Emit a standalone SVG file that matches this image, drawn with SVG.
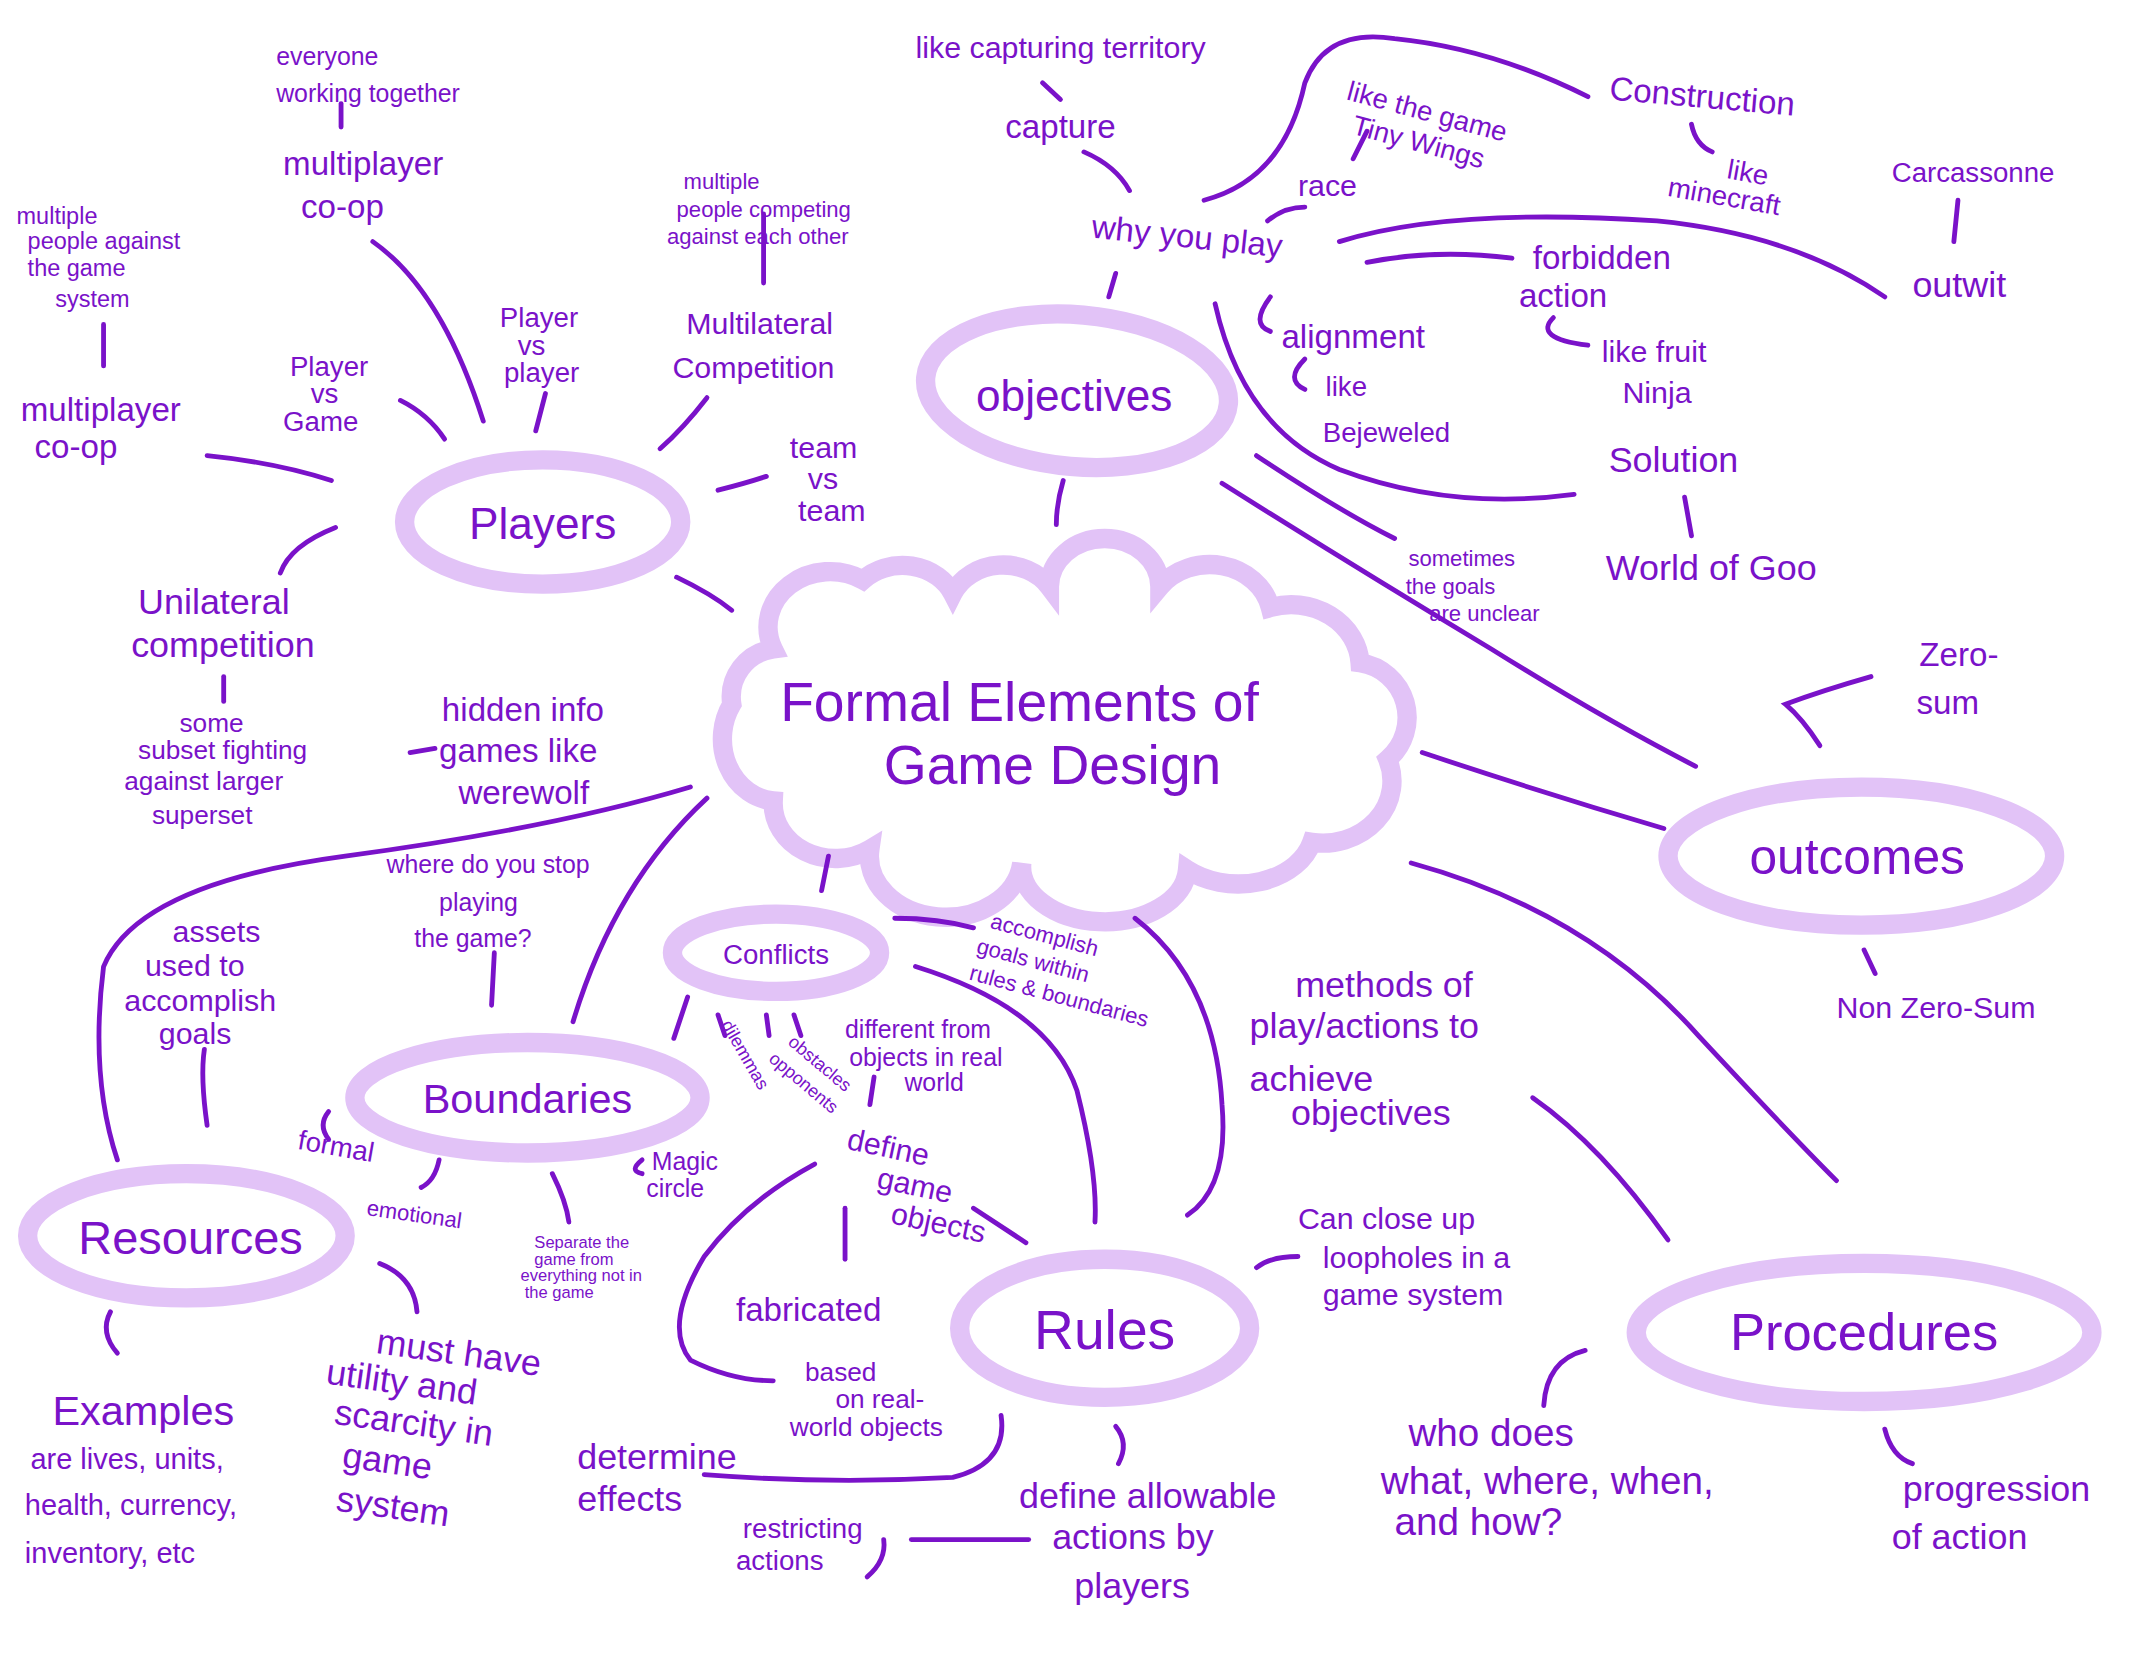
<svg xmlns="http://www.w3.org/2000/svg" width="2154" height="1668" viewBox="0 0 2154 1668">
<style>
text{font-family:"Liberation Sans","DejaVu Sans",sans-serif;fill:#7a12c9}
.e{fill:none;stroke:#e2c3f7;stroke-width:14}
.c path{fill:none;stroke:#7a12c9;stroke-width:3.5;stroke-linecap:round}
</style>
<rect width="2154" height="1668" fill="#fff"/>
<g transform="scale(1.3808)">
<g id="center"><path class="e" d="M560 470 A45 40 0 0 1 625 420 A40 35 0 0 1 690 430 A40 35 0 0 1 760 425 A40 35 0 0 1 840 425 A45 40 0 0 1 920 440 A50 45 0 0 1 985 480 A40 40 0 0 1 1005 550 A50 45 0 0 1 950 610 A55 40 0 0 1 860 630 A60 40 0 0 1 740 625 A50 40 0 0 1 630 615 A45 40 0 0 1 560 580 A40 45 0 0 1 530 510 A35 35 0 0 1 560 470 Z"/>
<text x="565" y="522" font-size="40">Formal Elements of</text><text x="640" y="568" font-size="40">Game Design</text></g>
<g id="players"><ellipse class="e" cx="393" cy="378" rx="100" ry="45"/><text x="393" y="390" font-size="32" text-anchor="middle">Players</text></g>
<g id="objectives"><ellipse class="e" cx="780" cy="283" rx="110" ry="55" transform="rotate(5 780 283)"/><text x="778" y="298" font-size="32" text-anchor="middle">objectives</text></g>
<g id="outcomes"><ellipse class="e" cx="1348" cy="620" rx="140" ry="50"/><text x="1345" y="633" font-size="36" text-anchor="middle">outcomes</text></g>
<g id="procedures"><ellipse class="e" cx="1350" cy="965" rx="165" ry="50"/><text x="1350" y="978" font-size="38" text-anchor="middle">Procedures</text></g>
<g id="rules"><ellipse class="e" cx="800" cy="962" rx="105" ry="50"/><text x="800" y="977" font-size="40" text-anchor="middle">Rules</text></g>
<g id="conflicts"><ellipse class="e" cx="562" cy="690" rx="75" ry="28"/><text x="562" y="698" font-size="20" text-anchor="middle">Conflicts</text></g>
<g id="boundaries"><ellipse class="e" cx="382" cy="795" rx="125" ry="40"/><text x="382" y="806" font-size="30" text-anchor="middle">Boundaries</text></g>
<g id="resources"><ellipse class="e" cx="135" cy="895" rx="115" ry="45"/><text x="138" y="908" font-size="34" text-anchor="middle">Resources</text></g>

<g id="labels">
<text font-size="18"><tspan x="200" y="47">everyone</tspan><tspan x="200" y="74">working together</tspan></text>
<text font-size="24"><tspan x="205" y="127">multiplayer</tspan><tspan x="218" y="158">co-op</tspan></text>
<text font-size="17"><tspan x="12" y="162">multiple</tspan><tspan x="20" y="180">people against</tspan><tspan x="20" y="200">the game</tspan><tspan x="40" y="222">system</tspan></text>
<text font-size="24"><tspan x="15" y="305">multiplayer</tspan><tspan x="25" y="332">co-op</tspan></text>
<text font-size="20"><tspan x="210" y="272">Player</tspan><tspan x="225" y="292">vs</tspan><tspan x="205" y="312">Game</tspan></text>
<text font-size="20"><tspan x="362" y="237">Player</tspan><tspan x="375" y="257">vs</tspan><tspan x="365" y="277">player</tspan></text>
<text font-size="16"><tspan x="495" y="137">multiple</tspan><tspan x="490" y="157">people competing</tspan><tspan x="483" y="177">against each other</tspan></text>
<text font-size="22"><tspan x="497" y="242">Multilateral</tspan><tspan x="487" y="274">Competition</tspan></text>
<text font-size="22"><tspan x="572" y="332">team</tspan><tspan x="585" y="354">vs</tspan><tspan x="578" y="377">team</tspan></text>
<text font-size="26"><tspan x="100" y="445">Unilateral</tspan><tspan x="95" y="476">competition</tspan></text>
<text font-size="19"><tspan x="130" y="530">some</tspan><tspan x="100" y="550">subset fighting</tspan><tspan x="90" y="572">against larger</tspan><tspan x="110" y="597">superset</tspan></text>
<text font-size="24"><tspan x="320" y="522">hidden info</tspan><tspan x="318" y="552">games like</tspan><tspan x="332" y="582">werewolf</tspan></text>
<text x="663" y="42" font-size="22">like capturing territory</text>
<text x="728" y="100" font-size="24">capture</text>
<text x="790" y="172" font-size="24" transform="rotate(6 790 172)">why you play</text>
<text font-size="20" transform="rotate(15 975 70)"><tspan x="975" y="72">like the game</tspan><tspan x="985" y="95">Tiny Wings</tspan></text>
<text x="940" y="142" font-size="22">race</text>
<text x="1165" y="72" font-size="24" transform="rotate(5 1165 72)">Construction</text>
<text font-size="20" transform="rotate(10 1210 125)"><tspan x="1250" y="122">like</tspan><tspan x="1210" y="142">minecraft</tspan></text>
<text x="1370" y="132" font-size="20">Carcassonne</text>
<text x="1385" y="215" font-size="26">outwit</text>
<text font-size="24"><tspan x="1110" y="195">forbidden</tspan><tspan x="1100" y="222">action</tspan></text>
<text font-size="22"><tspan x="1160" y="262">like fruit</tspan><tspan x="1175" y="292">Ninja</tspan></text>
<text x="928" y="252" font-size="24">alignment</text>
<text font-size="20"><tspan x="960" y="287">like</tspan><tspan x="958" y="320">Bejeweled</tspan></text>
<text x="1165" y="342" font-size="26">Solution</text>
<text x="1163" y="420" font-size="26">World of Goo</text>
<text font-size="16"><tspan x="1020" y="410">sometimes</tspan><tspan x="1018" y="430">the goals</tspan><tspan x="1035" y="450">are unclear</tspan></text>
<text font-size="24"><tspan x="1390" y="482">Zero-</tspan><tspan x="1388" y="517">sum</tspan></text>
<text x="1330" y="737" font-size="22">Non Zero-Sum</text>
<text font-size="26"><tspan x="938" y="722">methods of</tspan><tspan x="905" y="752">play/actions to</tspan><tspan x="905" y="790">achieve</tspan><tspan x="935" y="815">objectives</tspan></text>
<text font-size="22"><tspan x="940" y="890">Can close up</tspan><tspan x="958" y="918">loopholes in a</tspan><tspan x="958" y="945">game system</tspan></text>
<text font-size="28"><tspan x="1020" y="1047">who does</tspan><tspan x="1000" y="1082">what, where, when,</tspan><tspan x="1010" y="1112">and how?</tspan></text>
<text font-size="26"><tspan x="1378" y="1087">progression</tspan><tspan x="1370" y="1122">of action</tspan></text>
<text font-size="26"><tspan x="738" y="1092">define allowable</tspan><tspan x="762" y="1122">actions by</tspan><tspan x="778" y="1157">players</tspan></text>
<text font-size="20"><tspan x="538" y="1114">restricting</tspan><tspan x="533" y="1137">actions</tspan></text>
<text font-size="26"><tspan x="418" y="1064">determine</tspan><tspan x="418" y="1094">effects</tspan></text>
<text x="533" y="957" font-size="24">fabricated</text>
<text font-size="19"><tspan x="583" y="1000">based</tspan><tspan x="605" y="1020">on real-</tspan><tspan x="572" y="1040">world objects</tspan></text>
<text font-size="22" transform="rotate(12 613 830)"><tspan x="613" y="832">define</tspan><tspan x="640" y="855">game</tspan><tspan x="655" y="878">objects</tspan></text>
<text font-size="18"><tspan x="612" y="752">different from</tspan><tspan x="615" y="772">objects in real</tspan><tspan x="655" y="790">world</tspan></text>
<text font-size="16" transform="rotate(15 717 670)"><tspan x="717" y="672">accomplish</tspan><tspan x="712" y="692">goals within</tspan><tspan x="712" y="712">rules &amp; boundaries</tspan></text>
<text x="522" y="742" font-size="13" transform="rotate(60 522 742)">dilemmas</text>
<text x="570" y="756" font-size="13" transform="rotate(40 570 756)">obstacles</text>
<text x="556" y="768" font-size="13" transform="rotate(40 556 768)">opponents</text>
<text font-size="18"><tspan x="280" y="632">where do you stop</tspan><tspan x="318" y="660">playing</tspan><tspan x="300" y="686">the game?</tspan></text>
<text font-size="22"><tspan x="125" y="682">assets</tspan><tspan x="105" y="707">used to</tspan><tspan x="90" y="732">accomplish</tspan><tspan x="115" y="756">goals</tspan></text>
<text x="215" y="832" font-size="20" transform="rotate(10 215 832)">formal</text>
<text x="265" y="880" font-size="16" transform="rotate(8 265 880)">emotional</text>
<text font-size="18"><tspan x="472" y="847">Magic</tspan><tspan x="468" y="867">circle</tspan></text>
<text font-size="12"><tspan x="387" y="904">Separate the</tspan><tspan x="387" y="916">game from</tspan><tspan x="377" y="928">everything not in</tspan><tspan x="380" y="940">the game</tspan></text>
<text font-size="26" transform="rotate(8 235 1005)"><tspan x="268" y="975">must have</tspan><tspan x="235" y="1002">utility and</tspan><tspan x="245" y="1030">scarcity in</tspan><tspan x="255" y="1060">game</tspan><tspan x="255" y="1092">system</tspan></text>
<text x="38" y="1032" font-size="30">Examples</text>
<text font-size="21"><tspan x="22" y="1064">are lives, units,</tspan><tspan x="18" y="1097">health, currency,</tspan><tspan x="18" y="1132">inventory, etc</tspan></text>
</g>

<g id="connectors" class="c">
<path d="M247 75L247 92"/><path d="M270 175Q320 210 350 305"/><path d="M75 235L75 265"/><path d="M150 330Q200 335 240 348"/><path d="M290 290Q310 300 322 318"/><path d="M395 285L388 312"/><path d="M553 155L553 205"/><path d="M512 288Q495 310 478 325"/><path d="M520 355Q540 350 555 345"/><path d="M243 382Q210 395 203 415"/><path d="M490 418Q515 430 530 442"/><path d="M162 490L162 508"/><path d="M297 545L315 542"/><path d="M500 570Q400 600 250 620Q100 640 75 700Q65 780 85 840"/><path d="M512 578Q445 640 415 740"/><path d="M358 690L356 728"/><path d="M148 760Q145 780 150 815"/><path d="M600 620L595 645"/><path d="M498 722L488 752"/><path d="M520 735L525 750"/><path d="M555 735L557 750"/><path d="M575 735L580 750"/><path d="M633 780L630 800"/><path d="M648 665Q680 665 705 672"/><path d="M663 700Q760 730 780 790Q795 850 793 885"/><path d="M822 665Q880 710 885 800Q890 860 860 880"/><path d="M590 843Q540 870 510 910Q480 960 500 985Q530 1000 560 1000"/><path d="M612 875L612 912"/><path d="M705 875L743 900"/><path d="M725 1025Q730 1060 690 1070Q600 1075 510 1068"/><path d="M808 1033Q818 1045 810 1060"/><path d="M660 1115L745 1115"/><path d="M640 1115Q642 1130 628 1142"/><path d="M910 918Q920 910 940 910"/><path d="M1148 978Q1120 985 1118 1018"/><path d="M1365 1035Q1370 1055 1385 1060"/><path d="M1350 688L1358 705"/><path d="M1355 490Q1320 500 1293 510Q1305 520 1318 540"/><path d="M1030 545Q1120 575 1205 600"/><path d="M1022 625Q1150 660 1230 750Q1295 820 1330 855"/><path d="M1110 795Q1160 830 1208 898"/><path d="M885 350Q980 410 1080 470Q1160 520 1228 555"/><path d="M910 330Q970 370 1010 390"/><path d="M880 220Q900 310 970 340Q1050 370 1140 358"/><path d="M1220 360L1225 388"/><path d="M770 348Q765 365 765 380"/><path d="M808 198L803 215"/><path d="M785 110Q808 120 818 138"/><path d="M755 60L768 72"/><path d="M872 145Q930 130 945 60Q960 20 1010 28Q1080 35 1150 70"/><path d="M918 160Q930 150 945 150"/><path d="M990 95L980 115"/><path d="M1225 90Q1228 105 1240 110"/><path d="M970 175Q1050 150 1200 160Q1300 170 1365 215"/><path d="M990 190Q1040 180 1095 187"/><path d="M1418 145L1415 175"/><path d="M920 215Q905 235 920 240"/><path d="M945 260Q930 275 945 282"/><path d="M1125 230Q1110 245 1150 250"/><path d="M318 840Q315 855 305 860"/><path d="M400 850Q410 870 412 885"/><path d="M238 805Q230 815 238 825"/><path d="M465 840Q455 848 465 850"/><path d="M275 915Q300 925 302 950"/><path d="M80 950Q72 965 85 980"/>
</g>
</g>
</svg>
